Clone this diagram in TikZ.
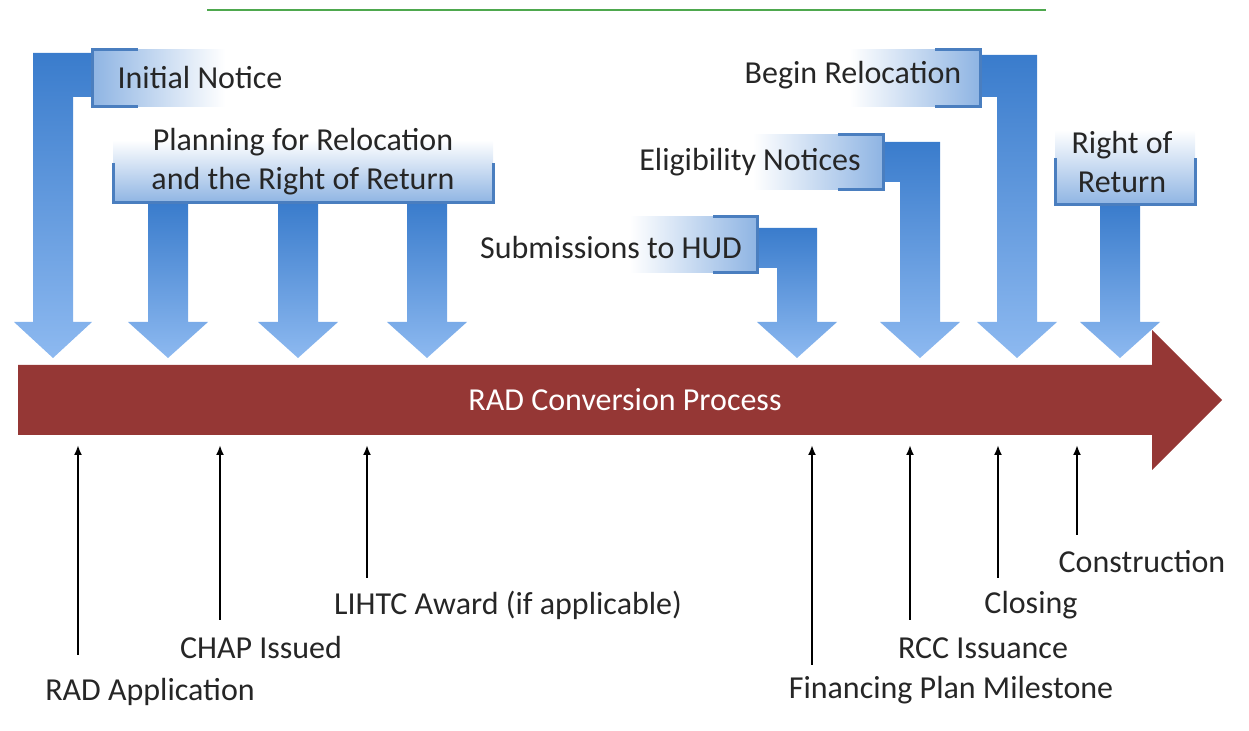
\documentclass[tikz,border=0pt]{standalone}
\usepackage{fontspec}
\setmainfont{Carlito}
\usetikzlibrary{arrows.meta}
\definecolor{arrowtop}{RGB}{58,124,204}
\definecolor{arrowbot}{RGB}{141,185,240}
\definecolor{boxblue}{RGB}{142,180,227}
\definecolor{rimblue}{RGB}{74,126,191}
\definecolor{raddred}{RGB}{149,55,53}
\definecolor{linegreen}{RGB}{78,168,78}
\definecolor{txtgray}{RGB}{38,38,38}
\tikzset{
  downarrow/.style={top color=arrowtop,bottom color=arrowbot},
  fadeleft/.style={left color=white,right color=boxblue},
  faderight/.style={left color=boxblue,right color=white},
  fadeup/.style={top color=white,bottom color=boxblue},
  rim/.style={draw=rimblue,line width=1.5pt},
  lbl/.style={font=\fontsize{16}{19.5}\selectfont,text=txtgray,inner sep=0pt,align=center},
  tick/.style={line width=1pt,-{Latex[length=5pt,width=4pt]}}
}
\begin{document}
\begin{tikzpicture}[x=0.5pt,y=-0.5pt]
\useasboundingbox (0,0) rectangle (1249,731);
\draw[linegreen,line width=1pt] (207,10) -- (1046,10);
% timeline
\fill[raddred] (18,365) -- (1152,365) -- (1152,330) -- (1222,400) -- (1152,470) -- (1152,435) -- (18,435) -- cycle;
\node[lbl,text=white] (proc) at (625,400) {RAD Conversion Process};
% arrows from above
\shade[downarrow] (33,53) -- (100,53) -- (100,97) -- (73,97) -- (73,322) -- (92,322) -- (53,358) -- (14,322) -- (33,322) -- cycle;
\shade[downarrow] (148,203) -- (188,203) -- (188,322) -- (208,322) -- (168,358) -- (128,322) -- (148,322) -- cycle;
\shade[downarrow] (278,203) -- (318,203) -- (318,322) -- (338,322) -- (298,358) -- (258,322) -- (278,322) -- cycle;
\shade[downarrow] (407,203) -- (447,203) -- (447,322) -- (467,322) -- (427,358) -- (387,322) -- (407,322) -- cycle;
\shade[downarrow] (750,228) -- (817,228) -- (817,322) -- (837,322) -- (797,358) -- (757,322) -- (777,322) -- (777,268) -- (750,268) -- cycle;
\shade[downarrow] (875,142) -- (940,142) -- (940,322) -- (960,322) -- (920,358) -- (880,322) -- (900,322) -- (900,182) -- (875,182) -- cycle;
\shade[downarrow] (972,55) -- (1037,55) -- (1037,322) -- (1057,322) -- (1017,358) -- (977,322) -- (997,322) -- (997,97) -- (972,97) -- cycle;
\shade[downarrow] (1100,205) -- (1140,205) -- (1140,322) -- (1160,322) -- (1120,358) -- (1080,322) -- (1100,322) -- cycle;
% boxes
\shade[faderight] (92,50) rectangle (225,107);
\draw[rim] (138,50) -- (92,50) -- (92,107) -- (138,107);
\node[lbl] (init) at (200,78) {Initial Notice};
\shade[fadeup] (113,140) rectangle (493,203);
\draw[rim] (113,163) -- (113,203) -- (493,203) -- (493,163);
\node[lbl] (plan) at (303,162) {Planning for Relocation\\and the Right of Return};
\shade[fadeleft] (630,217) rectangle (757,273);
\draw[rim] (713,217) -- (757,217) -- (757,273) -- (713,273);
\node[lbl] (hud) at (611,248) {Submissions to HUD};
\shade[fadeleft] (753,135) rectangle (883,190);
\draw[rim] (838,135) -- (883,135) -- (883,190) -- (838,190);
\node[lbl] (elig) at (750,162) {Eligibility Notices};
\shade[fadeleft] (850,50) rectangle (980,107);
\draw[rim] (935,50) -- (980,50) -- (980,107) -- (935,107);
\node[lbl] (begin) at (853,75) {Begin Relocation};
\shade[fadeup] (1055,130) rectangle (1195,205);
\draw[rim] (1055,158) -- (1055,205) -- (1195,205) -- (1195,158);
\node[lbl] (ret) at (1122,162) {Right of\\Return};
% milestones below
\coordinate (base) at (0,445);
\coordinate (t1) at (78,655);
\coordinate (t2) at (220,620);
\coordinate (t3) at (367,578);
\coordinate (t4) at (812,665);
\coordinate (t5) at (910,620);
\coordinate (t6) at (998,578);
\coordinate (t7) at (1077,535);
\draw[tick] (t1) -- (t1 |- base);
\draw[tick] (t2) -- (t2 |- base);
\draw[tick] (t3) -- (t3 |- base);
\draw[tick] (t4) -- (t4 |- base);
\draw[tick] (t5) -- (t5 |- base);
\draw[tick] (t6) -- (t6 |- base);
\draw[tick] (t7) -- (t7 |- base);
\node[lbl] (app) at (150,692) {RAD Application};
\node[lbl] (chap) at (261,648) {CHAP Issued};
\node[lbl] (lihtc) at (508,605) {LIHTC Award (if applicable)};
\node[lbl] (fin) at (951,690) {Financing Plan Milestone};
\node[lbl] (rcc) at (983,648) {RCC Issuance};
\node[lbl] (clos) at (1031,605) {Closing};
\node[lbl] (cons) at (1142,562) {Construction};
\end{tikzpicture}
\end{document}
